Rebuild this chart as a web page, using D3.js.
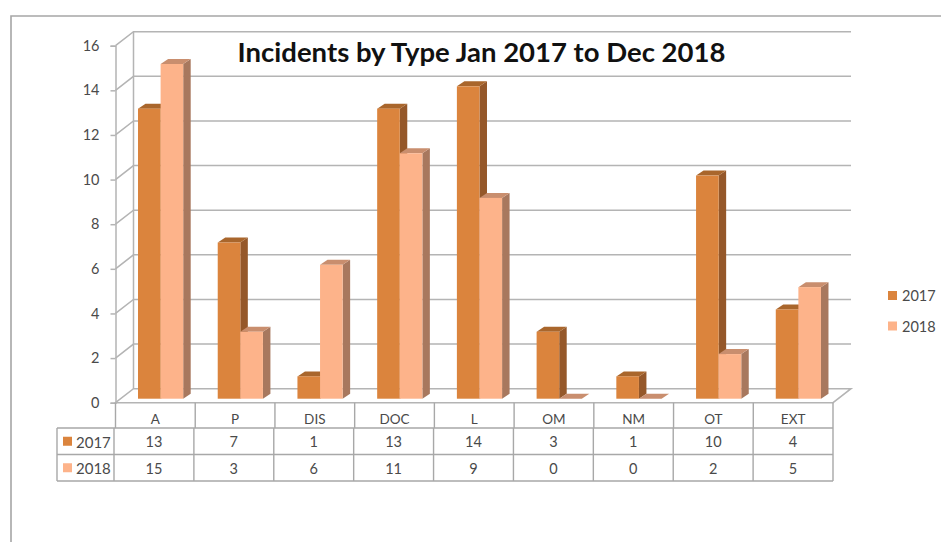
<!DOCTYPE html>
<html>
<head>
<meta charset="utf-8">
<style>
  html, body { margin: 0; padding: 0; background: #fff; }
  svg { display: block; }
  text { font-family: Lato, "Open Sans", sans-serif; }
</style>
<script src="https://cdn.jsdelivr.net/npm/d3@7/dist/d3.min.js"></script>
</head>
<body>
<svg id="chart" width="941" height="542"></svg>
<script>
const categories = ["A", "P", "DIS", "DOC", "L", "OM", "NM", "OT", "EXT"];
const seriesNames = ["2017", "2018"];
const values2017 = [13, 7, 1, 13, 14, 3, 1, 10, 4];
const values2018 = [15, 3, 6, 11, 9, 0, 0, 2, 5];
const yTicks = [0, 2, 4, 6, 8, 10, 12, 14, 16];
const chartTitle = "Incidents by Type Jan 2017 to Dec 2018";

const seriesValues = [values2017, values2018];
const palette = [
  { front: "#db843d", top: "#a9662c", side: "#95582a" },
  { front: "#fdb38a", top: "#c98e6e", side: "#a8785e" }
];

const svg = d3.select("#chart");
const gridColor = "#b4b4b4";
const lineColor = "#a6a6a6";
const textColor = "#4a4a4a";

// Outer chart frame: only the top and left edges are visible
svg.append("path")
  .attr("d", "M941,16H11V542")
  .attr("fill", "none").attr("stroke", lineColor).attr("stroke-width", 1.6);

// Oblique projection of the plot box
const depthX = 18, depthY = -14;
const plotLeft = 115.5, plotRight = 833;
const x = d3.scaleBand().domain(categories).range([plotLeft, plotRight]);
const xTable = d3.scaleBand().domain(categories).range([114, plotRight]);
const y = d3.scaleLinear().domain([0, 16]).range([402.7, 45.7]);

// Back wall gridlines and the diagonal side-wall rungs
const grid = svg.append("g").attr("fill", "none").attr("stroke", gridColor).attr("stroke-width", 1.5);
yTicks.forEach(t => {
  const yy = y(t);
  if (t > 0) {
    grid.append("path").attr("d", `M${plotLeft},${yy}L${plotLeft + depthX},${yy + depthY}H${plotRight + depthX}`);
  }
});
// Floor plane
grid.append("path").attr("d",
  `M${plotLeft},${y(0)}L${plotLeft + depthX},${y(0) + depthY}H${plotRight + depthX}L${plotRight},${y(0)}Z`);
grid.append("path").attr("d", `M${plotLeft + depthX},${y(16) + depthY}V${y(0) + depthY}`);

// Value axis on the front-left edge
const axis = svg.append("g")
  .attr("transform", `translate(${plotLeft},0)`)
  .call(d3.axisLeft(y).tickValues(yTicks).tickSize(5).tickPadding(11).tickFormat(d3.format("d")));
axis.selectAll("path,line").attr("stroke", gridColor).attr("stroke-width", 1.5);
axis.selectAll("text").attr("fill", textColor).style("font-size", "14.5px")
  .style("font-family", "Lato, sans-serif");

// Bars with a front face, a top face and a right side face
const barInset = 22.5, barWidth = 22.6, barDepthX = 7.5, barDepthY = -5, barBaseShift = -4;
const xSeries = d3.scaleBand().domain(seriesNames).range([barInset, barInset + barWidth * 2]);

categories.forEach((cat, i) => {
  seriesNames.forEach((name, s) => {
    const v = seriesValues[s][i];
    const x0 = x(cat) + xSeries(name);
    const x1 = x0 + xSeries.bandwidth();
    const yb = y(0) + barBaseShift;
    const yt = y(v) + barBaseShift;
    const c = palette[s];
    const g = svg.append("g");
    g.append("path").attr("fill", c.side).attr("d",
      `M${x1},${yt}L${x1 + barDepthX},${yt + barDepthY}V${yb + barDepthY}L${x1},${yb}Z`);
    g.append("path").attr("fill", c.top).attr("d",
      `M${x0},${yt}L${x0 + barDepthX},${yt + barDepthY}H${x1 + barDepthX}L${x1},${yt}Z`);
    g.append("rect").attr("x", x0).attr("y", yt)
      .attr("width", x1 - x0).attr("height", yb - yt).attr("fill", c.front);
  });
});

// Data table below the plot
const rowY = { "2017": [428, 454.5], "2018": [454.5, 481] };
const tableLeft = 57;
const table = svg.append("g");
const tLines = table.append("g").attr("fill", "none").attr("stroke", "#a8a8a8").attr("stroke-width", 1.4);
tLines.append("path").attr("d", `M${tableLeft},428H${plotRight}M${tableLeft},454.5H${plotRight}M${tableLeft},481H${plotRight}M${tableLeft},428V481M${plotRight},${y(0)}V481`);
categories.forEach(cat => {
  tLines.append("path").attr("d", `M${x(cat)},${y(0)}V428M${xTable(cat)},428V481`);
});

const cellText = (sel, tx, ty, label, size) => sel.append("text")
  .attr("x", tx).attr("y", ty).attr("text-anchor", "middle").attr("dominant-baseline", "central")
  .attr("fill", textColor).style("font-size", size).text(label);

categories.forEach((cat, i) => {
  const cx = x(cat) + x.bandwidth() / 2;
  cellText(table, cx, 419, cat, "13.5px");
  seriesNames.forEach((name, s) => {
    cellText(table, xTable(cat) + xTable.bandwidth() / 2, (rowY[name][0] + rowY[name][1]) / 2 + 0.5, seriesValues[s][i], "14.5px");
  });
});

seriesNames.forEach((name, s) => {
  const mid = (rowY[name][0] + rowY[name][1]) / 2;
  table.append("rect").attr("x", 63).attr("y", mid - 4.5).attr("width", 9).attr("height", 9)
    .attr("fill", palette[s].front);
  table.append("text").attr("x", 76).attr("y", mid + 0.5).attr("dominant-baseline", "central")
    .attr("fill", textColor).style("font-size", "15px").text(name);
});

// Legend at the right
const legendY = d3.scalePoint().domain(seriesNames).range([295.5, 326]);
seriesNames.forEach((name, s) => {
  svg.append("rect").attr("x", 888).attr("y", legendY(name) - 4.5).attr("width", 9).attr("height", 9)
    .attr("fill", palette[s].front);
  svg.append("text").attr("x", 902).attr("y", legendY(name)).attr("dominant-baseline", "central")
    .attr("fill", textColor).style("font-size", "14.5px").text(name);
});

// Title
svg.append("text").attr("x", 481.5).attr("y", 51).attr("text-anchor", "middle")
  .attr("dominant-baseline", "central")
  .attr("fill", "#111").style("font-size", "27.5px").style("font-weight", 700).text(chartTitle);
</script>
</body>
</html>
